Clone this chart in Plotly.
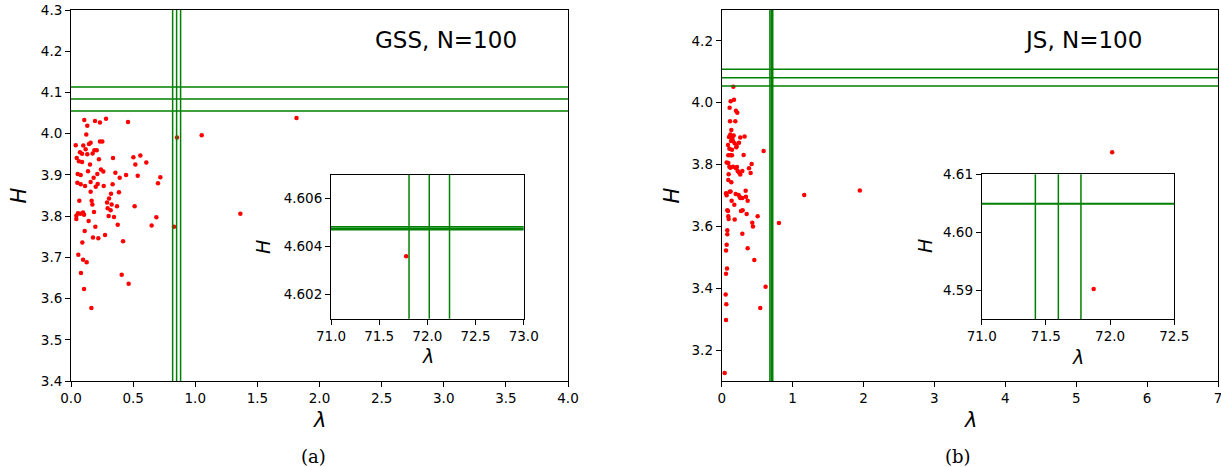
import plotly.graph_objects as go

# ---------------- data ----------------
lam_gss = [0.107, 0.193, 0.233, 0.282, 0.459, 0.123, 0.131, 0.038, 0.099, 0.145,
           0.158, 0.233, 0.252, 0.118, 0.188, 0.207, 0.072, 0.089, 0.131, 0.174,
           0.046, 0.064, 0.089, 0.225, 0.338, 0.502, 0.558, 0.518, 0.606, 0.153,
           0.137, 0.241, 0.260, 0.054, 0.078, 0.212, 0.182, 0.357, 0.443, 0.537,
           0.392, 0.719, 0.051, 0.078, 0.113, 0.158, 0.215, 0.199, 0.263, 0.335,
           0.700, 0.158, 0.386, 0.322, 0.306, 0.067, 0.166, 0.172, 0.290, 0.327,
           0.370, 0.512, 0.295, 0.319, 0.185, 0.056, 0.043, 0.075, 0.097, 0.105,
           0.043, 0.303, 0.346, 0.687, 0.142, 0.649, 0.376, 0.196, 0.110, 0.274,
           0.177, 0.220, 0.091, 0.419, 0.059, 0.097, 0.126, 0.080, 0.408, 0.464,
           0.105, 0.164, 0.853, 1.052, 1.363, 0.829, 1.815]
H_gss = [4.033, 4.031, 4.027, 4.036, 4.028, 3.998, 4.019, 3.972, 3.971, 3.975,
         3.978, 3.981, 3.981, 3.962, 3.960, 3.960, 3.955, 3.951, 3.950, 3.952,
         3.941, 3.933, 3.931, 3.938, 3.941, 3.943, 3.947, 3.925, 3.930, 3.925,
         3.909, 3.913, 3.908, 3.902, 3.900, 3.902, 3.893, 3.905, 3.900, 3.898,
         3.893, 3.894, 3.881, 3.877, 3.873, 3.883, 3.878, 3.871, 3.873, 3.877,
         3.880, 3.859, 3.858, 3.854, 3.843, 3.837, 3.837, 3.828, 3.833, 3.828,
         3.824, 3.824, 3.819, 3.814, 3.810, 3.807, 3.801, 3.806, 3.809, 3.803,
         3.793, 3.800, 3.798, 3.797, 3.788, 3.777, 3.779, 3.774, 3.764, 3.754,
         3.748, 3.746, 3.736, 3.739, 3.706, 3.694, 3.688, 3.662, 3.658, 3.636,
         3.623, 3.577, 3.991, 3.996, 3.806, 3.774, 4.038]

lam_js = [0.164, 0.126, 0.173, 0.112, 0.201, 0.220, 0.117, 0.192, 0.136, 0.122,
          0.169, 0.103, 0.150, 0.262, 0.323, 0.089, 0.131, 0.159, 0.183, 0.211,
          0.244, 0.108, 0.145, 0.206, 0.093, 0.126, 0.145, 0.309, 0.591, 0.070,
          0.093, 0.108, 0.122, 0.159, 0.197, 0.215, 0.225, 0.244, 0.262, 0.291,
          0.385, 0.422, 0.408, 0.098, 0.093, 0.136, 0.061, 0.070, 0.112, 0.126,
          0.140, 0.178, 0.197, 0.239, 0.253, 0.262, 0.291, 0.338, 0.342, 0.366,
          1.164, 0.079, 0.089, 0.093, 0.098, 0.183, 0.272, 0.295, 0.352, 0.507,
          0.431, 0.441, 0.807, 0.079, 0.079, 0.291, 0.070, 0.061, 0.366, 0.460,
          0.075, 0.061, 0.619, 0.056, 0.065, 0.544, 0.061, 0.042, 1.948, 5.507]
H_js = [4.052, 4.005, 4.010, 3.984, 3.974, 3.968, 3.940, 3.940, 3.912, 3.897,
        3.894, 3.889, 3.886, 3.888, 3.891, 3.863, 3.876, 3.876, 3.869, 3.860,
        3.871, 3.851, 3.848, 3.856, 3.830, 3.830, 3.830, 3.831, 3.844, 3.807,
        3.805, 3.793, 3.790, 3.793, 3.789, 3.792, 3.779, 3.774, 3.768, 3.779,
        3.788, 3.802, 3.773, 3.769, 3.750, 3.743, 3.707, 3.701, 3.712, 3.713,
        3.683, 3.670, 3.705, 3.702, 3.696, 3.692, 3.692, 3.715, 3.696, 3.683,
        3.702, 3.652, 3.650, 3.633, 3.624, 3.622, 3.650, 3.652, 3.640, 3.633,
        3.612, 3.600, 3.611, 3.588, 3.575, 3.576, 3.541, 3.522, 3.529, 3.491,
        3.464, 3.447, 3.405, 3.380, 3.348, 3.336, 3.297, 3.126, 3.716, 3.840]

# reference lines (green)
gss_vlines = [0.818, 0.850, 0.882]
gss_hlines = [4.113, 4.084, 4.055]
js_vlines = [0.68, 0.70, 0.72]
js_hlines = [4.108, 4.081, 4.054]

# inset data
gss_inset_lam = [71.78]
gss_inset_H = [4.6036]
gss_inset_vlines = [71.81, 72.02, 72.23]
gss_inset_hlines = [4.60471, 4.60477, 4.60483]
js_inset_lam = [71.872]
js_inset_H = [4.5902]
js_inset_vlines = [71.418, 71.597, 71.773]
js_inset_hlines = [4.6049]

# tick labels
gss_xticks = ["0.0", "0.5", "1.0", "1.5", "2.0", "2.5", "3.0", "3.5", "4.0"]
gss_yticks = ["3.4", "3.5", "3.6", "3.7", "3.8", "3.9", "4.0", "4.1", "4.2", "4.3"]
js_xticks = ["0", "1", "2", "3", "4", "5", "6", "7"]
js_yticks = ["3.2", "3.4", "3.6", "3.8", "4.0", "4.2"]
gss_in_xticks = ["71.0", "71.5", "72.0", "72.5", "73.0"]
gss_in_yticks = ["4.602", "4.604", "4.606"]
js_in_xticks = ["71.0", "71.5", "72.0", "72.5"]
js_in_yticks = ["4.59", "4.60", "4.61"]

# titles / labels
titles = ["GSS, N=100", "JS, N=100"]
captions = ["(a)", "(b)"]

# ---------------- figure ----------------
W, Hh = 1221, 467
GREEN = "#008000"
RED = "#ff0000"
FONT = "DejaVu Sans"

fig = go.Figure()

def add_points(x, y, xa, ya):
    fig.add_trace(go.Scatter(x=x, y=y, mode="markers", xaxis=xa, yaxis=ya,
                             marker=dict(color=RED, size=4.5, line=dict(width=0)),
                             showlegend=False, hoverinfo="skip"))

add_points(lam_gss, H_gss, "x", "y")
add_points(lam_js, H_js, "x2", "y2")
add_points(gss_inset_lam, gss_inset_H, "x3", "y3")
add_points(js_inset_lam, js_inset_H, "x4", "y4")

shapes = []
def vlines(vals, xa, ya, w=1.5):
    for v in vals:
        shapes.append(dict(type="line", xref=xa, yref=ya + " domain", x0=v, x1=v, y0=0, y1=1,
                           line=dict(color=GREEN, width=w), layer="above"))

def hlines(vals, xa, ya, w=1.5):
    for v in vals:
        shapes.append(dict(type="line", xref=xa + " domain", yref=ya, x0=0, x1=1, y0=v, y1=v,
                           line=dict(color=GREEN, width=w), layer="above"))

vlines(gss_vlines, "x", "y")
hlines(gss_hlines, "x", "y")
vlines(js_vlines, "x2", "y2")
hlines(js_hlines, "x2", "y2")
vlines(gss_inset_vlines, "x3", "y3")
hlines(gss_inset_hlines, "x3", "y3")
vlines(js_inset_vlines, "x4", "y4")
hlines(js_inset_hlines, "x4", "y4", w=2)

def ax(domain, rng, anchor, labels):
    return dict(domain=domain, range=rng, anchor=anchor, showline=True, mirror=True,
                linecolor="black", linewidth=1, ticks="outside", ticklen=5, tickwidth=1,
                tickcolor="black", showgrid=False, zeroline=False, automargin=False,
                ticklabeloverflow="allow",
                tickmode="array", tickvals=[float(t) for t in labels], ticktext=labels,
                tickfont=dict(family=FONT, size=13.5, color="black"))

def px_x(p):
    return p / W

def px_y(p):
    return 1 - p / Hh

main_y = [px_y(381), px_y(10)]
fig.update_layout(
    width=W, height=Hh, autosize=False,
    margin=dict(l=0, r=0, t=0, b=0, pad=0),
    paper_bgcolor="white", plot_bgcolor="white",
    showlegend=False,
    xaxis=ax([px_x(71), px_x(568)], [0, 4], "y", gss_xticks),
    yaxis=ax(main_y, [3.4, 4.3], "x", gss_yticks),
    xaxis2=ax([px_x(721.7), px_x(1218)], [0, 7], "y2", js_xticks),
    yaxis2=ax(main_y, [3.1, 4.3], "x2", js_yticks),
    xaxis3=ax([px_x(331), px_x(523.7)], [71, 73], "y3", gss_in_xticks),
    yaxis3=ax([px_y(318.7), px_y(174.7)], [4.601, 4.607], "x3", gss_in_yticks),
    xaxis4=ax([px_x(981.7), px_x(1174.3)], [71, 72.5], "y4", js_in_xticks),
    yaxis4=ax([px_y(319), px_y(174.3)], [4.585, 4.61], "x4", js_in_yticks),
    shapes=shapes,
)

ann = []
def text(x, y, s, size, angle=0, family=FONT):
    ann.append(dict(x=px_x(x), y=px_y(y), xref="paper", yref="paper", text=s, showarrow=False,
                    textangle=angle, xanchor="center", yanchor="middle",
                    font=dict(family=family, size=size, color="black")))

text(446, 40, titles[0], 23)
text(1083, 40, titles[1], 23)
text(313, 456, captions[0], 18, family="DejaVu Serif")
text(958, 456, captions[1], 18, family="DejaVu Serif")
# axis titles
text(18, 195.5, "<i>H</i>", 21, angle=-90)
text(671, 195.5, "<i>H</i>", 21, angle=-90)
text(319.5, 420, "<i>λ</i>", 21)
text(970, 420, "<i>λ</i>", 21)
text(263, 247, "<i>H</i>", 19, angle=-90)
text(925, 246, "<i>H</i>", 19, angle=-90)
text(427.5, 356, "<i>λ</i>", 19)
text(1078, 357, "<i>λ</i>", 19)
fig.update_layout(annotations=ann)

# remove the default page margin so the figure sits at the window's corner
fig.write_html("out.html", config={"displayModeBar": False},
               post_script="document.body.style.margin='0';document.body.style.overflow='hidden';")
